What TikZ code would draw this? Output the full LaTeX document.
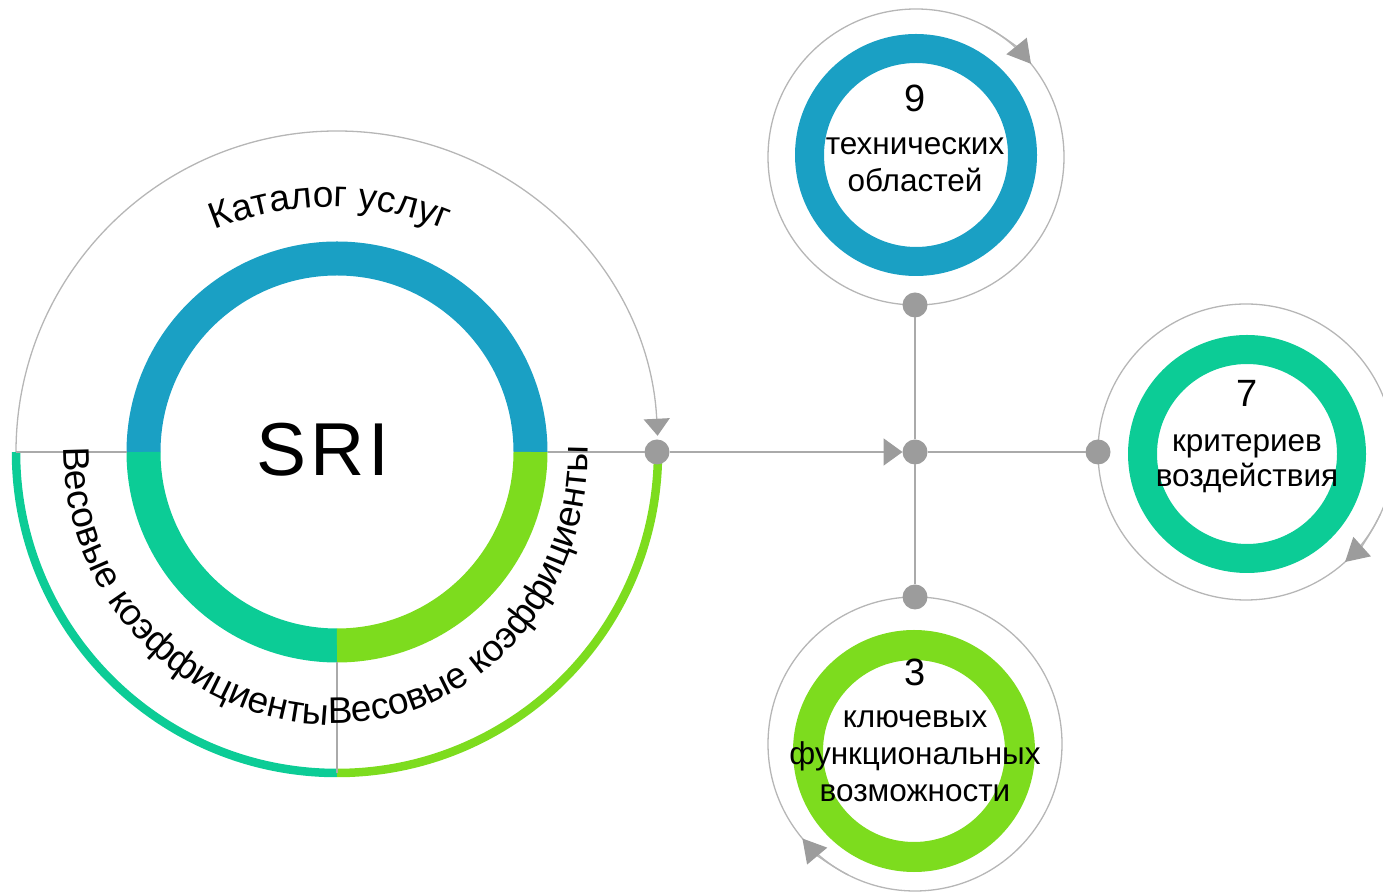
\documentclass[tikz,border=0pt]{standalone}
\usepackage{fontspec}
\setmainfont{Liberation Sans}
\usetikzlibrary{decorations.text,arrows.meta,calc}
\definecolor{cblue}{RGB}{26,160,196}
\definecolor{cteal}{RGB}{12,204,150}
\definecolor{cgreen}{RGB}{125,220,30}
\definecolor{lgray}{RGB}{182,182,182}
\definecolor{dgray}{RGB}{156,156,156}
\definecolor{lineg}{RGB}{170,170,170}
\newcommand\curvefont{\fontsize{37}{37}\selectfont}
\begin{document}
\begin{tikzpicture}[x=1pt,y=1pt,
  thinarc/.style={draw=lgray,line width=1.3pt},
  conn/.style={draw=lineg,line width=2pt},
  thinline/.style={draw=lineg,line width=1.5pt},
  dot/.style={circle,fill=dgray,minimum size=25pt,inner sep=0pt,outer sep=0pt},
  satlabel/.style={font=\fontsize{31.5}{37}\selectfont,inner sep=0pt,anchor=base},
  satnum/.style={font=\fontsize{38}{38}\selectfont,inner sep=0pt},
  tipA/.style={-{Triangle[length=17pt,width=26pt,color=dgray]}},
  tipH/.style={-{Triangle[length=19pt,width=27pt,color=dgray]}},
  tipS/.style={-{Triangle[length=23pt,width=26pt,color=dgray]}},
  curvetext/.style={decorate,decoration={text along path,text={|\curvefont|#1}}},
  curvetextc/.style={decorate,decoration={text along path,text align=center,text={|\curvefont|#1}}}
]
\useasboundingbox (0,0) rectangle (1383,896);
\clip (0,0) rectangle (1383,896);

% main circle centre
\coordinate (M) at (337,444);

% satellite outer gray circles
\draw[thinarc] (916,739) circle[radius=148];
\draw[thinarc] (1246,444) circle[radius=148];
\draw[thinarc] (915,152) circle[radius=147];

% satellite arrowheads (clockwise)
\draw[thinarc,tipS] (916,739) ++(62:148) arc[start angle=62,end angle=39,radius=148];
\draw[thinarc,tipS] (1246,444) ++(-25:148) arc[start angle=-25,end angle=-48,radius=148];
\draw[thinarc,tipS] (915,152) ++(243:147) arc[start angle=243,end angle=220,radius=147];

% satellite coloured rings
\draw[cblue,line width=29pt] (916,741) circle[radius=106.5];
\draw[cteal,line width=29pt] (1247,442) circle[radius=104.5];
\draw[cgreen,line width=30pt] (914,145) circle[radius=106];

% big gray arc with arrow
\draw[thinarc,tipA] (M) ++(180:321) arc[start angle=180,end angle=2.9,radius=321];

% coloured outer arcs
\draw[cteal,line width=8.5pt] (M) ++(180:321) arc[start angle=180,end angle=270,radius=321];
\draw[cgreen,line width=8.5pt] (M) ++(270:321) arc[start angle=270,end angle=360,radius=321];

% main ring
\draw[cblue,line width=34pt] (M) ++(0:193.5) arc[start angle=0,end angle=180,radius=193.5];
\draw[cteal,line width=34pt] (M) ++(180:193.5) arc[start angle=180,end angle=270,radius=193.5];
\draw[cgreen,line width=34pt] (M) ++(270:193.5) arc[start angle=270,end angle=360,radius=193.5];

% dots
\node[dot] (A) at (657,444) {};
\node[dot] (H) at (915,444) {};
\node[dot] (T) at (915,591) {};
\node[dot] (R) at (1098,444) {};
\node[dot] (B) at (915,299) {};

% free ends of thin lines
\coordinate (Lend) at (16,444);
\coordinate (Lring) at (126.5,444);
\coordinate (Rring) at (547.5,444);
\coordinate (Bring) at (337,234);
\coordinate (Barc) at (337,123);

\draw[thinline] (Lend) -- (Lring);
\draw[thinline] (Rring) -- (A);
\draw[thinline] (Bring) -- (Barc);

\draw[conn,tipH] (A) -- (H);
\draw[conn] (H) -- (T);
\draw[conn] (H) -- (R);
\draw[conn] (H) -- (B);

% curved texts
\path[curvetextc={Каталог услуг}] (330,389) ++(158:300) arc[start angle=158,end angle=22,radius=300];
\path[curvetext={Весовые коэффициенты}] (M) ++(179:273) arc[start angle=179,end angle=280,radius=273];
\path[curvetext={Весовые коэффициенты}] (M) ++(268:251 and 271) arc[start angle=268,end angle=370,x radius=251,y radius=271];

% SRI
\node[font=\fontsize{75}{75}\selectfont,inner sep=0pt] (sri) at (323,446) {S\kern4pt R\kern4pt I};

% satellite texts
\node[satnum] (n9) at (915,797.5) {9};
\node[satlabel] (t9a) at (915,741) {технических};
\node[satlabel] (t9b) at (915,704) {областей};

\node[satnum] (n7) at (1247,503) {7};
\node[satlabel] (t7a) at (1247,444) {критериев};
\node[satlabel] (t7b) at (1247,409) {воздействия};

\node[satnum] (n3) at (915,224) {3};
\node[satlabel] (t3a) at (915,168) {ключевых};
\node[satlabel] (t3b) at (915,131) {функциональных};
\node[satlabel] (t3c) at (915,94) {возможности};
\end{tikzpicture}
\end{document}
